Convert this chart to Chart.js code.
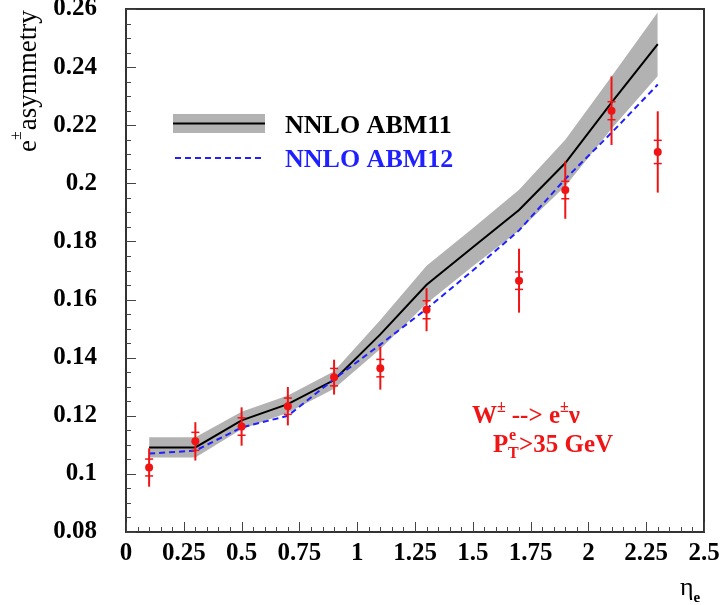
<!DOCTYPE html>
<html lang="en">
<head>
  <meta charset="UTF-8" />
  <title>Electron charge asymmetry</title>
  <script src="https://cdn.jsdelivr.net/npm/chart.js"></script>
  <style>
    html, body { margin: 0; padding: 0; background: #fff; }
    canvas { display: block; }
  </style>
</head>
<body>
  <canvas id="asymChart" width="721" height="605"></canvas>
  <script>
    // measured points (eta bins), asymmetry, stat and total errors
    const etaData  = [0.1, 0.3, 0.5, 0.7, 0.9, 1.1, 1.3, 1.7, 1.9, 2.1, 2.3];
    const asymData = [0.1022, 0.1112, 0.1163, 0.1233, 0.1333, 0.1364, 0.1565, 0.1665, 0.1977, 0.2250, 0.2108];
    const statErr  = [0.0029, 0.0031, 0.0030, 0.0028, 0.0030, 0.0030, 0.0031, 0.0030, 0.0030, 0.0031, 0.0040];
    const totErr   = [0.0066, 0.0066, 0.0066, 0.0066, 0.0060, 0.0074, 0.0074, 0.0110, 0.0099, 0.0118, 0.0140];

    // theory curves
    const etaTheory = [0.1, 0.3, 0.5, 0.7, 0.9, 1.1, 1.3, 1.5, 1.7, 1.9, 2.1, 2.3];
    const abm11     = [0.1091, 0.1091, 0.1184, 0.1240, 0.1323, 0.1480, 0.1651, 0.1780, 0.1908, 0.2070, 0.2278, 0.2479];
    const abm11Err  = [0.0035, 0.0035, 0.0030, 0.0030, 0.0030, 0.0050, 0.0065, 0.0065, 0.0070, 0.0080, 0.0090, 0.0110];
    const abm12     = [0.1070, 0.1080, 0.1160, 0.1200, 0.1326, 0.1445, 0.1568, 0.1700, 0.1838, 0.2015, 0.2174, 0.2340];

    const xTicks = { min: 0, max: 2.5, step: 0.25, minor: 0.05 };
    const yTicks = { min: 0.08, max: 0.26, step: 0.02, minor: 0.005 };

    const RED = '#f01414';
    const BLUE = '#1f1fff';
    const BAND = '#b2b2b2';
    const SERIF = '"Liberation Serif", "Times New Roman", serif';

    const pts = (xs, ys) => xs.map((x, i) => ({ x: x, y: ys[i] }));

    // draw a run of text pieces: [text, size, weight, dy, extra gap]
    function drawRun(ctx, x, y, pieces, color) {
      ctx.fillStyle = color;
      ctx.textAlign = 'left';
      ctx.textBaseline = 'alphabetic';
      let cx = x;
      pieces.forEach(p => {
        ctx.font = p[2] + ' ' + p[1] + 'px ' + SERIF;
        ctx.fillText(p[0], cx, y + p[3]);
        cx += ctx.measureText(p[0]).width + (p[4] || 0);
      });
    }

    const rootStyle = {
      id: 'rootStyle',
      afterDatasetsDraw(chart) {
        const ctx = chart.ctx;
        const xs = chart.scales.x, ys = chart.scales.y;
        ctx.save();
        ctx.strokeStyle = RED;
        etaData.forEach((eta, i) => {
          const px = xs.getPixelForValue(eta);
          ctx.lineWidth = 2;
          ctx.beginPath();
          ctx.moveTo(px, ys.getPixelForValue(asymData[i] + totErr[i]));
          ctx.lineTo(px, ys.getPixelForValue(asymData[i] - totErr[i]));
          ctx.stroke();
          ctx.lineWidth = 1.5;
          [1, -1].forEach(s => {
            const py = ys.getPixelForValue(asymData[i] + s * statErr[i]);
            ctx.beginPath();
            ctx.moveTo(px - 4, py);
            ctx.lineTo(px + 4, py);
            ctx.stroke();
          });
        });
        ctx.restore();
      },
      afterDraw(chart) {
        const ctx = chart.ctx;
        const a = chart.chartArea;
        const xs = chart.scales.x, ys = chart.scales.y;
        ctx.save();

        // frame
        ctx.strokeStyle = '#333';
        ctx.lineWidth = 2;
        ctx.strokeRect(a.left, a.top, a.right - a.left, a.bottom - a.top);

        // inner ticks
        ctx.lineWidth = 1;
        ctx.strokeStyle = '#444';
        const per = Math.round(yTicks.step / yTicks.minor);
        const ny = Math.round((yTicks.max - yTicks.min) / yTicks.minor);
        for (let k = 0; k <= ny; k++) {
          const py = Math.round(ys.getPixelForValue(yTicks.min + k * yTicks.minor)) + 0.5;
          const len = k % per === 0 ? 10 : 5;
          ctx.beginPath();
          ctx.moveTo(a.left, py);
          ctx.lineTo(a.left + len, py);
          ctx.stroke();
        }
        const perX = Math.round(xTicks.step / xTicks.minor);
        const nx = Math.round((xTicks.max - xTicks.min) / xTicks.minor);
        for (let k = 0; k <= nx; k++) {
          const px = Math.round(xs.getPixelForValue(xTicks.min + k * xTicks.minor)) + 0.5;
          const len = k % perX === 0 ? 10 : 5;
          ctx.beginPath();
          ctx.moveTo(px, a.bottom);
          ctx.lineTo(px, a.bottom - len);
          ctx.stroke();
        }

        // legend
        ctx.fillStyle = BAND;
        ctx.fillRect(173, 114, 92, 19);
        ctx.strokeStyle = '#000';
        ctx.lineWidth = 2;
        ctx.beginPath();
        ctx.moveTo(173, 123.5);
        ctx.lineTo(265, 123.5);
        ctx.stroke();
        ctx.strokeStyle = BLUE;
        ctx.setLineDash([6, 4]);
        ctx.beginPath();
        ctx.moveTo(175, 158);
        ctx.lineTo(265, 158);
        ctx.stroke();
        ctx.setLineDash([]);
        drawRun(ctx, 285, 133, [['NNLO ABM11', 26, 'bold', 0]], '#000');
        drawRun(ctx, 285, 167, [['NNLO ABM12', 26, 'bold', 0]], BLUE);

        // process label
        drawRun(ctx, 472, 423, [
          ['W', 25, 'bold', 0], ['\u00b1', 16, 'bold', -11, 6],
          ['--> e', 25, 'bold', 0], ['\u00b1', 16, 'bold', -11],
          ['\u03bd', 25, 'bold', 0]
        ], RED);
        drawRun(ctx, 493, 452, [['P', 25, 'bold', 0]], RED);
        ctx.font = 'bold 16px ' + SERIF;
        ctx.fillText('e', 509, 440);
        ctx.fillText('T', 508, 458);
        drawRun(ctx, 519, 452, [['>35 GeV', 25, 'bold', 0]], RED);

        // y title (rotated)
        ctx.save();
        ctx.translate(36, 152);
        ctx.rotate(-Math.PI / 2);
        drawRun(ctx, 0, 0, [
          ['e', 27, 'normal', 0], ['\u00b1', 16, 'normal', -15, 1],
          ['asymmetry', 27, 'normal', 0]
        ], '#000');
        ctx.restore();

        // x title
        drawRun(ctx, 680, 595, [['\u03b7', 26, 'normal', 0], ['e', 15, 'bold', 7]], '#000');

        ctx.restore();
      }
    };

    new Chart(document.getElementById('asymChart'), {
      type: 'scatter',
      data: {
        datasets: [
          {
            label: 'data',
            data: pts(etaData, asymData),
            pointRadius: 4,
            pointBackgroundColor: RED,
            pointBorderWidth: 0,
            showLine: false
          },
          {
            label: 'NNLO ABM12',
            data: pts(etaTheory, abm12),
            showLine: true,
            borderColor: BLUE,
            borderWidth: 2,
            borderDash: [6, 4],
            pointRadius: 0,
            tension: 0,
            fill: false
          },
          {
            label: 'NNLO ABM11',
            data: pts(etaTheory, abm11),
            showLine: true,
            borderColor: '#000',
            borderWidth: 2,
            pointRadius: 0,
            tension: 0,
            fill: false
          },
          {
            label: 'band up',
            data: pts(etaTheory, abm11.map((v, i) => v + abm11Err[i])),
            showLine: true,
            borderWidth: 0,
            borderColor: BAND,
            backgroundColor: BAND,
            pointRadius: 0,
            tension: 0,
            fill: '+1'
          },
          {
            label: 'band down',
            data: pts(etaTheory, abm11.map((v, i) => v - abm11Err[i])),
            showLine: true,
            borderWidth: 0,
            borderColor: BAND,
            pointRadius: 0,
            tension: 0,
            fill: false
          }
        ]
      },
      options: {
        responsive: false,
        devicePixelRatio: 1,
        animation: false,
        layout: { padding: { top: 9, right: 17, left: 0, bottom: 0 } },
        plugins: {
          legend: { display: false },
          tooltip: { enabled: false }
        },
        scales: {
          x: {
            type: 'linear',
            min: xTicks.min,
            max: xTicks.max,
            grid: { display: false, drawTicks: false },
            border: { display: false },
            afterFit: s => { s.height = 73; s.paddingLeft = 0; s.paddingRight = 0; },
            ticks: {
              stepSize: xTicks.step,
              autoSkip: false,
              maxRotation: 0,
              padding: 7,
              color: '#000',
              font: { family: SERIF, size: 25, weight: 'bold' },
              callback: v => String(parseFloat(v.toFixed(3)))
            }
          },
          y: {
            type: 'linear',
            min: yTicks.min,
            max: yTicks.max,
            grid: { display: false, drawTicks: false },
            border: { display: false },
            afterFit: s => { s.width = 126; s.paddingTop = 0; s.paddingBottom = 0; },
            ticks: {
              stepSize: yTicks.step,
              autoSkip: false,
              padding: 29,
              color: '#000',
              font: { family: SERIF, size: 25, weight: 'bold' },
              callback: v => String(parseFloat(v.toFixed(3)))
            }
          }
        }
      },
      plugins: [rootStyle]
    });
  </script>
</body>
</html>
